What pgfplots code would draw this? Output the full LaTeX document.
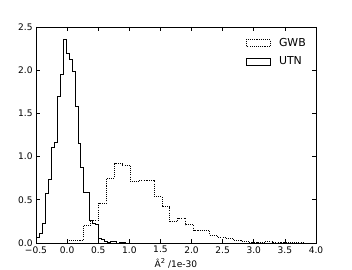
\documentclass[border=0pt]{standalone}
\usepackage{pgfplots}
\pgfplotsset{compat=1.18}
\usepackage{fontspec}
\setmainfont{DejaVu Sans}
\begin{document}
\begin{tikzpicture}
\begin{axis}[
  at={(0,0)}, anchor=south west, scale only axis,
  width=210pt, height=162pt,
  xmin=-0.5, xmax=4.0, ymin=0, ymax=2.5,
  xtick={-0.5,0,0.5,1,1.5,2,2.5,3,3.5,4},
  xticklabels={−0.5,0.0,0.5,1.0,1.5,2.0,2.5,3.0,3.5,4.0},
  ytick={0,0.5,1,1.5,2,2.5},
  yticklabels={0.0,0.5,1.0,1.5,2.0,2.5},
  tick align=inside, tick pos=both, major tick length=3pt,
  axis line style={black, line width=0.6pt},
  tick style={black, line width=0.5pt},
  tick label style={font=\fontsize{6.8}{8}\selectfont},
  xticklabel style={yshift=1pt},
  yticklabel style={xshift=1pt},
  xlabel={Â\raisebox{0.9ex}{\fontsize{5}{6}\selectfont 2} /1e-30},
  xlabel style={font=\fontsize{6.8}{8}\selectfont, yshift=3pt},
  legend cell align=left,
  legend style={draw=none, fill=none, at={(axis cs:2.87,2.40)}, anchor=north west,
    inner sep=0pt, row sep=3.5pt, font=\fontsize{8.2}{9.5}\selectfont,
    nodes={inner sep=1.5pt}},
  legend image code/.code={\draw[#1] (0pt,-2.6pt) rectangle (18pt,2.6pt);
    \path[draw=none] (23pt,0pt);},
]
% GWB: 30 bins from 0.0, width 0.127
\addplot[const plot, black, line width=0.6pt, dash pattern=on 0.8pt off 0.8pt] coordinates {
(0.000,0) (0.000,0.030) (0.127,0.030) (0.254,0.200) (0.381,0.265) (0.508,0.460)
(0.635,0.750) (0.762,0.920) (0.889,0.900) (1.016,0.710) (1.143,0.720)
(1.270,0.730) (1.397,0.540) (1.524,0.420) (1.651,0.250) (1.778,0.285)
(1.905,0.210) (2.032,0.150) (2.159,0.150) (2.286,0.093) (2.413,0.070)
(2.540,0.055) (2.667,0.030) (2.794,0.020) (2.921,0.010) (3.048,0.005)
(3.175,0.015) (3.302,0.010) (3.429,0.005) (3.556,0.005) (3.683,0.005)
(3.810,0)
};
\addlegendentry{GWB}
% UTN: 30 bins from -0.49, width 0.0474
\addplot[const plot, black, line width=0.6pt] coordinates {
(-0.490,0) (-0.490,0.070) (-0.443,0.110) (-0.395,0.230) (-0.348,0.575)
(-0.300,0.740) (-0.253,1.110) (-0.206,1.170) (-0.158,1.700) (-0.111,1.950)
(-0.063,2.360) (-0.016,2.190) (0.031,2.120) (0.079,1.990) (0.126,1.580)
(0.174,1.150) (0.221,0.880) (0.268,0.590) (0.316,0.580) (0.363,0.265)
(0.411,0.230) (0.458,0.210) (0.505,0.055) (0.553,0.040) (0.600,0.020)
(0.648,0.010) (0.695,0.020) (0.742,0.020) (0.790,0.000) (0.837,0.010)
(0.885,0.010) (0.932,0)
};
\addlegendentry{UTN}
\end{axis}
\pgfresetboundingbox
\useasboundingbox (-27pt,-20.25pt) rectangle (237pt,182.25pt);
\end{tikzpicture}
\end{document}
